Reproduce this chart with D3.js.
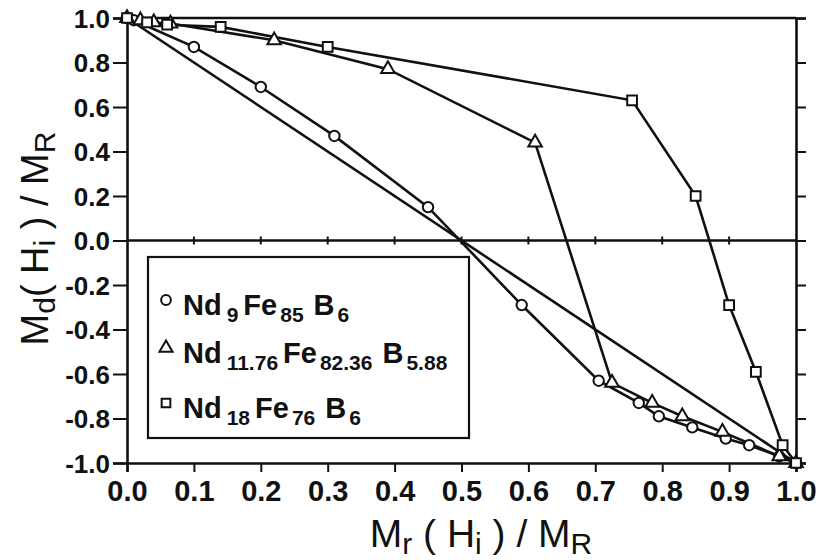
<!DOCTYPE html>
<html>
<head>
<meta charset="utf-8">
<script src="https://cdn.jsdelivr.net/npm/d3@7"></script>
<style>
  html, body { margin: 0; padding: 0; background: #fff; }
  svg { display: block; }
  text { font-family: "Liberation Sans", Arial, Helvetica, sans-serif; fill: #111; }
</style>
</head>
<body>
<svg id="chart" width="823" height="560"></svg>
<script>
// Henkel-type plot: normalised dc-demagnetisation remanence vs. isothermal remanence
const xTicks = [0, 0.1, 0.2, 0.3, 0.4, 0.5, 0.6, 0.7, 0.8, 0.9, 1.0];
const yTicks = [-1.0, -0.8, -0.6, -0.4, -0.2, 0.0, 0.2, 0.4, 0.6, 0.8, 1.0];

// Wohlfarth reference line: Md = 1 - 2 Mr
const wohlfarthX = [0, 1];
const wohlfarthY = [1, -1];

// Nd9 Fe85 B6 (circles)
const circleX = [0, 0.01, 0.10, 0.20, 0.31, 0.45, 0.59, 0.705, 0.765, 0.795, 0.845, 0.895, 0.93, 0.975, 1.0];
const circleY = [1, 0.99, 0.87, 0.69, 0.47, 0.15, -0.29, -0.63, -0.73, -0.79, -0.84, -0.89, -0.92, -0.97, -1.0];

// Nd11.76 Fe82.36 B5.88 (triangles)
const triX = [0, 0.02, 0.04, 0.065, 0.22, 0.39, 0.61, 0.725, 0.785, 0.83, 0.89, 0.975, 1.0];
const triY = [1, 0.99, 0.98, 0.975, 0.90, 0.77, 0.44, -0.64, -0.73, -0.79, -0.86, -0.97, -1.0];

// Nd18 Fe76 B6 (squares)
const sqX = [0, 0.03, 0.06, 0.14, 0.30, 0.755, 0.85, 0.90, 0.94, 0.98, 1.0];
const sqY = [1, 0.98, 0.97, 0.96, 0.87, 0.63, 0.20, -0.29, -0.59, -0.92, -1.0];

// legend labels: [text, subscript?]
const legendNames = [
  [["Nd", false], ["9", true], ["Fe", false], ["85", true], ["B", false], ["6", true]],
  [["Nd", false], ["11.76", true], ["Fe", false], ["82.36", true], ["B", false], ["5.88", true]],
  [["Nd", false], ["18", true], ["Fe", false], ["76", true], ["B", false], ["6", true]]
];
const legendSymbols = ["circle", "triangle", "square"];

const svg = d3.select("#chart");
const padL = 127, padR = 796, padT = 18, padB = 463;

const x = d3.scaleLinear().domain([0, 1]).range([padL, padR]);
const y = d3.scaleLinear().domain([-1, 1]).range([padB, padT]);

const ink = "#111";
const lw = 2.6;

// frame axes
const gLeft = svg.append("g").attr("transform", `translate(${padL},0)`)
  .call(d3.axisLeft(y).tickValues(yTicks).tickSize(14).tickPadding(3)
    .tickFormat(d => d3.format(".1f")(d).replace("−", "-")));
gLeft.select(".domain").attr("stroke", ink).attr("stroke-width", lw);
gLeft.selectAll(".tick line").attr("stroke", ink).attr("stroke-width", 2);
gLeft.selectAll(".tick text").attr("font-size", 26).attr("font-weight", "bold")
  .attr("fill", ink).attr("dy", "0.36em");

const gRight = svg.append("g").attr("transform", `translate(${padR},0)`)
  .call(d3.axisRight(y).tickValues(yTicks).tickSize(10).tickFormat(""));
gRight.select(".domain").attr("stroke", ink).attr("stroke-width", lw);
gRight.selectAll(".tick line").attr("stroke", ink).attr("stroke-width", 2);

const gBottom = svg.append("g").attr("transform", `translate(0,${padB})`)
  .call(d3.axisBottom(x).tickValues(xTicks).tickSize(9).tickPadding(4)
    .tickFormat(d3.format(".1f")));
gBottom.select(".domain").attr("stroke", ink).attr("stroke-width", lw);
gBottom.selectAll(".tick line").attr("stroke", ink).attr("stroke-width", 2);
gBottom.selectAll(".tick text").attr("font-size", 29).attr("font-weight", "bold")
  .attr("fill", ink).attr("dy", "0.85em");

svg.append("line").attr("x1", padL).attr("x2", padR).attr("y1", padT).attr("y2", padT)
  .attr("stroke", ink).attr("stroke-width", lw);

// zero line with small crossing ticks
svg.append("line").attr("x1", padL).attr("x2", padR).attr("y1", y(0)).attr("y2", y(0))
  .attr("stroke", ink).attr("stroke-width", lw);
svg.append("g").selectAll("line").data(xTicks.slice(1, -1)).join("line")
  .attr("x1", d => x(d)).attr("x2", d => x(d))
  .attr("y1", y(0) - 4).attr("y2", y(0) + 4)
  .attr("stroke", ink).attr("stroke-width", 2);

// axis titles
function title(sel, parts) {
  parts.forEach(([txt, sub], j) => {
    const ts = sel.append("tspan").text(txt);
    if (sub) ts.attr("font-size", 30).attr("dy", 7);
    else if (j > 0) ts.attr("dy", -7);
  });
}
const xTitle = svg.append("text").attr("x", 481).attr("y", 547)
  .attr("text-anchor", "middle").attr("font-size", 39);
title(xTitle, [["M", false], ["r", true], ["  ( H", false], ["i", true], [" )  /  M", false], ["R", true]]);

const yTitle = svg.append("text")
  .attr("transform", `translate(48,${y(0) - 2}) rotate(-90)`)
  .attr("text-anchor", "middle").attr("font-size", 38);
title(yTitle, [["M", false], ["d", true], ["( H", false], ["i", true], [" ) / M", false], ["R", true]]);

// data
const line = d3.line().x(d => x(d[0])).y(d => y(d[1]));
const zip = (a, b) => a.map((v, i) => [v, b[i]]);

svg.append("path").datum(zip(wohlfarthX, wohlfarthY)).attr("d", line)
  .attr("fill", "none").attr("stroke", ink).attr("stroke-width", lw);

const series = [
  { pts: zip(circleX, circleY), sym: d3.symbolCircle, size: 85 },
  { pts: zip(triX, triY), sym: d3.symbolTriangle, size: 80 },
  { pts: zip(sqX, sqY), sym: d3.symbolSquare, size: 95 }
];

series.forEach(s => {
  svg.append("path").datum(s.pts).attr("d", line)
    .attr("fill", "none").attr("stroke", ink).attr("stroke-width", lw);
});
series.forEach(s => {
  svg.append("g").selectAll("path").data(s.pts).join("path")
    .attr("transform", d => `translate(${x(d[0])},${y(d[1])})`)
    .attr("d", d3.symbol().type(s.sym).size(s.size))
    .attr("fill", "#fff").attr("stroke", ink).attr("stroke-width", 2);
});

// legend
const lg = svg.append("g");
lg.append("rect").attr("x", 148).attr("y", 257).attr("width", 321).attr("height", 181)
  .attr("fill", "#fff").attr("stroke", ink).attr("stroke-width", 2.2);
const symFor = { circle: d3.symbolCircle, triangle: d3.symbolTriangle, square: d3.symbolSquare };
const rowsY = [315, 363, 418];
const gapBefore = [0, 5, 5, 3, 10, 3];
legendNames.forEach((parts, i) => {
  lg.append("path").attr("transform", `translate(166,${rowsY[i] - 15})`)
    .attr("d", d3.symbol().type(symFor[legendSymbols[i]]).size(75))
    .attr("fill", "#fff").attr("stroke", ink).attr("stroke-width", 2);
  const t = lg.append("text").attr("transform", `translate(183,${rowsY[i]})`)
    .attr("font-size", 29).attr("font-weight", "bold");
  parts.forEach(([txt, sub], j) => {
    const ts = t.append("tspan").text(txt).attr("dx", gapBefore[j]);
    if (sub) ts.attr("font-size", 21).attr("dy", 7);
    else if (j > 0) ts.attr("dy", -7);
  });
});
</script>
</body>
</html>
